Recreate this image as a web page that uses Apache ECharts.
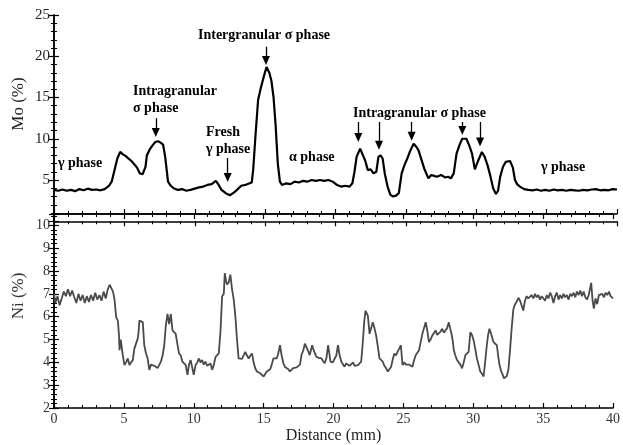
<!DOCTYPE html>
<html>
<head>
<meta charset="utf-8">
<script src="https://cdn.jsdelivr.net/npm/echarts@6/dist/echarts.min.js"></script>
<style>
html,body{margin:0;padding:0;background:#fff;}
#chart{width:623px;height:445px;}
</style>
</head>
<body>
<div id="chart"></div>
<script>
// ---------- Data ----------
const moDist = [0,0.3,0.6,0.9,1.2,1.5,1.8,2.1,2.4,2.7,3.0,3.3,3.6,3.9,4.1,4.3,4.5,4.7,4.9,5.1,5.3,5.5,5.7,5.9,6.1,6.3,6.5,6.6,6.8,7.0,7.2,7.4,7.6,7.75,7.9,8.1,8.3,8.5,8.8,9.1,9.4,9.7,10.0,10.3,10.6,10.9,11.2,11.5,11.7,11.9,12.2,12.5,12.8,13.0,13.3,13.6,13.9,14.05,14.15,14.3,14.5,14.7,14.9,15.1,15.3,15.45,15.6,15.75,15.9,16.05,16.2,16.5,16.8,17.1,17.4,17.7,18.0,18.3,18.6,18.9,19.2,19.5,19.8,20.1,20.4,20.7,21.0,21.2,21.35,21.5,21.75,21.9,22.1,22.3,22.5,22.7,22.9,23.05,23.2,23.35,23.5,23.7,23.9,24.1,24.3,24.5,24.7,24.9,25.1,25.3,25.55,25.75,25.9,26.1,26.3,26.6,26.8,27.0,27.2,27.5,27.8,28.0,28.2,28.4,28.6,28.8,29.0,29.3,29.5,29.7,29.9,30.15,30.4,30.6,30.8,31.0,31.2,31.4,31.55,31.7,31.9,32.1,32.4,32.6,32.75,32.9,33.1,33.4,33.7,34.0,34.3,34.6,34.9,35.2,35.5,35.8,36.1,36.4,36.7,37.0,37.3,37.6,37.9,38.2,38.5,38.8,39.1,39.4,39.7,40.0];
const moVals = [3.8,3.7,3.85,3.7,3.8,3.65,3.9,3.75,3.95,3.8,3.85,3.75,3.9,4.3,4.8,6.2,7.6,8.4,8.1,7.9,7.6,7.3,6.9,6.5,5.8,5.7,6.6,8.0,8.7,9.2,9.6,9.7,9.5,9.3,7.8,4.8,4.3,4.0,3.8,3.9,3.7,3.8,3.95,4.1,4.2,4.4,4.5,4.9,4.4,3.8,3.4,3.15,3.5,3.8,4.3,4.4,4.6,4.7,6.2,10.0,14.7,16.2,17.5,18.7,18.0,17.0,15.0,11.5,7.0,4.8,4.4,4.6,4.5,4.8,4.7,4.9,4.8,5.0,4.9,5.0,4.9,5.0,4.8,4.4,4.2,4.3,4.2,4.6,6.0,7.8,8.8,8.2,7.4,6.2,6.3,5.8,6.0,7.8,8.0,7.6,5.8,4.2,3.2,3.0,3.1,3.4,5.8,6.8,7.6,8.5,9.4,9.0,8.6,7.5,6.4,5.2,5.6,5.5,5.4,5.6,5.3,5.4,5.2,5.8,8.2,9.2,10.0,10.0,9.2,8.2,6.3,7.4,8.4,7.8,6.8,5.5,4.0,3.3,3.7,5.4,6.6,7.2,7.3,6.5,5.0,4.5,4.2,3.9,3.8,3.75,3.85,3.7,3.8,3.7,3.85,3.75,3.8,3.7,3.8,3.75,3.7,3.8,3.75,3.85,3.9,3.75,3.8,3.75,3.9,3.85];

const niDist = [0.0,0.1,0.25,0.4,0.55,0.7,0.85,1.0,1.15,1.3,1.45,1.6,1.75,1.9,2.05,2.2,2.35,2.5,2.65,2.8,2.95,3.1,3.25,3.4,3.55,3.7,3.85,3.98,4.1,4.22,4.33,4.45,4.57,4.65,4.69,4.78,4.92,5.04,5.16,5.28,5.4,5.52,5.64,5.75,5.87,5.99,6.05,6.11,6.23,6.35,6.46,6.58,6.7,6.82,6.94,7.06,7.18,7.29,7.41,7.53,7.65,7.77,7.89,8.0,8.12,8.24,8.36,8.48,8.6,8.71,8.83,8.95,9.07,9.19,9.31,9.43,9.55,9.66,9.78,9.9,10.0,10.13,10.25,10.37,10.48,10.6,10.72,10.84,10.96,11.08,11.2,11.32,11.44,11.56,11.68,11.79,11.91,12.03,12.15,12.22,12.3,12.38,12.5,12.62,12.74,12.86,12.98,13.1,13.21,13.33,13.45,13.57,13.69,13.81,13.93,14.05,14.17,14.28,14.4,14.52,14.64,14.76,14.88,15.0,15.12,15.23,15.35,15.47,15.58,15.7,15.82,15.94,16.05,16.17,16.29,16.41,16.53,16.65,16.77,16.88,17.0,17.12,17.24,17.36,17.48,17.6,17.71,17.84,17.95,18.07,18.18,18.3,18.47,18.6,18.78,18.95,19.14,19.26,19.37,19.5,19.61,19.7,19.78,19.95,20.08,20.2,20.32,20.44,20.56,20.68,20.79,20.91,21.03,21.15,21.27,21.4,21.5,21.63,21.75,21.87,21.98,22.1,22.2,22.29,22.38,22.46,22.58,22.7,22.81,22.93,23.05,23.17,23.29,23.4,23.52,23.64,23.76,23.88,24.0,24.12,24.23,24.35,24.47,24.58,24.7,24.82,24.94,25.06,25.18,25.3,25.42,25.53,25.65,25.77,25.89,26.0,26.12,26.24,26.36,26.48,26.6,26.71,26.83,26.95,27.07,27.19,27.31,27.42,27.54,27.66,27.78,27.9,28.02,28.13,28.25,28.34,28.42,28.52,28.61,28.72,28.84,28.96,29.08,29.2,29.32,29.44,29.55,29.67,29.79,29.91,30.03,30.14,30.26,30.38,30.5,30.62,30.74,30.85,30.97,31.06,31.16,31.3,31.45,31.57,31.69,31.78,31.88,32.0,32.11,32.2,32.28,32.4,32.52,32.64,32.75,32.87,32.96,33.04,33.14,33.23,33.35,33.47,33.58,33.7,33.82,33.94,34.05,34.17,34.3,34.42,34.54,34.66,34.78,34.9,35.02,35.14,35.26,35.38,35.5,35.62,35.74,35.86,35.98,36.1,36.22,36.34,36.46,36.58,36.7,36.82,36.94,37.06,37.18,37.3,37.42,37.54,37.66,37.78,37.9,38.02,38.14,38.26,38.38,38.44,38.54,38.63,38.75,38.87,38.99,39.11,39.23,39.35,39.47,39.59,39.71,39.83,39.95,40.0];
const niVals = [7.0,6.6,6.9,6.5,6.8,7.1,6.9,7.2,6.9,7.15,6.85,6.6,7.0,6.7,6.95,6.6,6.9,6.65,6.95,6.7,7.05,6.75,6.95,6.7,7.1,6.8,7.2,7.4,7.25,7.1,6.76,5.97,5.83,5.2,4.53,5.0,4.32,3.88,4.0,4.17,3.88,4.0,4.1,4.6,4.6,5.04,5.3,5.83,5.8,5.76,4.75,4.4,4.17,3.67,3.9,3.88,3.85,3.81,3.75,3.74,4.03,4.3,4.75,5.6,6.12,5.68,6.12,5.4,5.35,5.25,4.8,4.39,4.3,4.03,3.95,3.88,3.45,3.9,4.1,4.03,3.45,3.88,4.0,4.17,4.0,4.1,3.9,4.03,3.85,3.81,3.95,3.67,3.9,4.24,4.2,4.39,5.32,6.9,7.0,7.91,7.6,7.41,7.5,7.84,7.2,6.76,6.0,4.96,4.17,4.1,4.15,4.1,4.46,4.3,4.17,4.3,4.39,4.0,3.74,3.6,3.55,3.52,3.45,3.38,3.5,3.6,3.67,3.7,3.9,4.17,4.1,4.17,4.4,4.75,4.3,3.96,3.8,3.74,3.7,3.6,3.67,3.75,3.8,3.78,3.81,3.9,4.32,4.53,4.82,4.82,4.5,4.32,4.75,4.5,4.24,4.2,4.17,4.05,3.96,4.2,4.75,4.4,4.03,4.0,4.03,4.3,4.75,4.3,4.03,3.95,3.81,3.95,4.03,3.85,3.81,4.0,3.85,3.88,3.88,3.95,4.03,4.89,5.8,6.26,6.15,6.04,5.25,5.5,5.76,5.5,5.18,4.7,4.17,4.1,4.03,3.85,3.75,3.6,3.52,3.8,4.1,4.39,4.3,4.46,4.6,4.75,3.88,4.0,3.9,3.96,3.9,3.85,3.81,4.1,4.32,4.4,4.53,4.9,5.25,5.5,5.76,5.4,4.89,5.0,5.18,5.1,5.4,5.2,5.25,5.35,5.47,5.3,5.32,5.5,5.76,5.5,5.32,5.0,4.53,4.3,4.1,4.0,3.9,3.74,4.0,4.32,4.4,4.46,5.32,5.2,4.96,4.6,4.17,3.9,3.6,3.5,3.38,4.0,4.75,5.2,5.47,5.2,4.89,4.85,4.75,4.3,3.88,3.6,3.45,3.3,3.24,3.4,3.7,4.6,5.5,6.33,6.5,6.55,6.7,6.83,6.7,6.69,6.27,6.7,6.9,6.8,6.76,6.95,6.8,7.0,6.85,6.95,6.75,6.9,6.85,6.7,6.95,6.8,7.05,6.9,6.6,6.9,7.05,6.75,6.95,6.8,7.0,6.85,6.95,6.75,7.0,6.9,7.05,6.85,7.1,6.95,7.15,6.9,7.1,6.85,6.75,6.95,6.9,7.48,6.7,6.35,6.8,6.55,6.95,6.9,7.0,6.85,7.05,6.95,7.1,6.9,6.95,6.8];

const xTicks = {min: 0, max: 40, interval: 5};
const moTicks = {min: 0, max: 25, interval: 5};
const niTicks = {min: 2, max: 10.5, interval: 1};

// annotation arrows (x in mm, from / to in Mo %)
const arrowX    = [7.23, 12.34, 15.06, 21.62, 23.09, 25.41, 29.01, 30.27];
const arrowFrom = [12.5, 7.67, 21.16, 12.03, 12.03, 12.03, 12.03, 12.03];
const arrowTo   = [10.75, 5.3, 19.5, 10.15, 9.2, 10.3, 11.0, 9.6];

// ---------- Chart ----------
const SERIF = '"Liberation Serif","Times New Roman",serif';
const chart = echarts.init(document.getElementById('chart'), null, {renderer: 'canvas'});

const moData = moDist.map((d, i) => [d, moVals[i]]);
const niData = niDist.map((d, i) => [d, niVals[i]]);
const arrowData = arrowX.map((x, i) => [{coord: [x, arrowFrom[i]]}, {coord: [x, arrowTo[i]]}]);

function xAx(grid, pos, opts) {
  return Object.assign({
    type: 'value', gridIndex: grid, position: pos,
    min: xTicks.min, max: xTicks.max, interval: xTicks.interval,
    axisLine: {show: true, lineStyle: {color: '#000', width: 1.5}},
    axisTick: {show: true, inside: true, length: 5, lineStyle: {color: '#000', width: 1.2}},
    minorTick: {show: true, splitNumber: 5, length: 3, lineStyle: {color: '#000', width: 1}},
    axisLabel: {show: false},
    splitLine: {show: false}
  }, opts || {});
}
function yAx(grid, pos, t, split, opts) {
  return Object.assign({
    type: 'value', gridIndex: grid, position: pos,
    min: t.min, max: t.max, interval: t.interval,
    axisLine: {show: true, lineStyle: {color: '#000', width: 1.5}},
    axisTick: {show: true, inside: true, length: 5, lineStyle: {color: '#000', width: 1.2}},
    minorTick: {show: true, splitNumber: split, length: 3, lineStyle: {color: '#000', width: 1}},
    axisLabel: {show: false},
    splitLine: {show: false}
  }, opts || {});
}

function note(text, x, y) {
  return {type: 'text', x: x, y: y, style: {text: text, font: 'bold 14px ' + SERIF, fill: '#000', align: 'left', verticalAlign: 'middle'}};
}

const option = {
  animation: false,
  backgroundColor: '#fff',
  grid: [
    {left: 54, top: 15, width: 563, height: 206.25, containLabel: false},
    {left: 54, top: 214, width: 563, height: 196.7, containLabel: false}
  ],
  xAxis: [
    xAx(0, 'top'),
    xAx(0, 'bottom', {offset: -7.25}),
    xAx(1, 'top'),
    xAx(1, 'bottom', {
      axisLabel: {show: true, margin: 4, color: '#333', fontFamily: SERIF, fontSize: 14},
      name: 'Distance (mm)', nameLocation: 'middle', nameGap: 20,
      nameTextStyle: {color: '#222', fontFamily: SERIF, fontSize: 16}
    })
  ],
  yAxis: [
    yAx(0, 'left', moTicks, 5, {
      axisLabel: {show: true, margin: 4, color: '#222', fontFamily: SERIF, fontSize: 15,
        formatter: v => (v === 0 ? '' : String(v))}
    }),
    yAx(0, 'right', moTicks, 5),
    yAx(1, 'left', niTicks, 5, {
      axisLabel: {show: true, margin: 4, color: '#333', fontFamily: SERIF, fontSize: 14,
        formatter: v => (Number.isInteger(v) ? String(v) : '')}
    }),
    yAx(1, 'right', niTicks, 5)
  ],
  series: [
    {
      type: 'line', xAxisIndex: 1, yAxisIndex: 0, data: moData,
      showSymbol: false, symbol: 'none', clip: true,
      lineStyle: {color: '#000', width: 2.2},
      markLine: {
        silent: true, symbol: ['none', 'triangle'], symbolSize: [8, 9],
        lineStyle: {color: '#000', width: 1.3, type: 'solid'},
        label: {show: false},
        data: arrowData
      }
    },
    {
      type: 'line', xAxisIndex: 3, yAxisIndex: 2, data: niData,
      showSymbol: false, symbol: 'none', clip: true,
      lineStyle: {color: '#4a4a4a', width: 1.8}
    }
  ],
  graphic: [
    {type: 'text', x: 19, y: 104, rotation: Math.PI / 2, style: {text: 'Mo (%)', font: '17px ' + SERIF, fill: '#222', align: 'center', verticalAlign: 'middle'}},
    {type: 'text', x: 19, y: 296, rotation: Math.PI / 2, style: {text: 'Ni (%)', font: '17px ' + SERIF, fill: '#333', align: 'center', verticalAlign: 'middle'}},
    note('γ phase', 58, 163),
    note('Intragranular', 133, 91),
    note('σ phase', 133, 108),
    note('Fresh', 206, 132),
    note('γ phase', 206, 149),
    note('Intergranular σ phase', 198, 35),
    note('α phase', 289, 157),
    note('Intragranular σ phase', 353, 113),
    note('γ phase', 541, 167)
  ]
};
chart.setOption(option);
</script>
</body>
</html>
